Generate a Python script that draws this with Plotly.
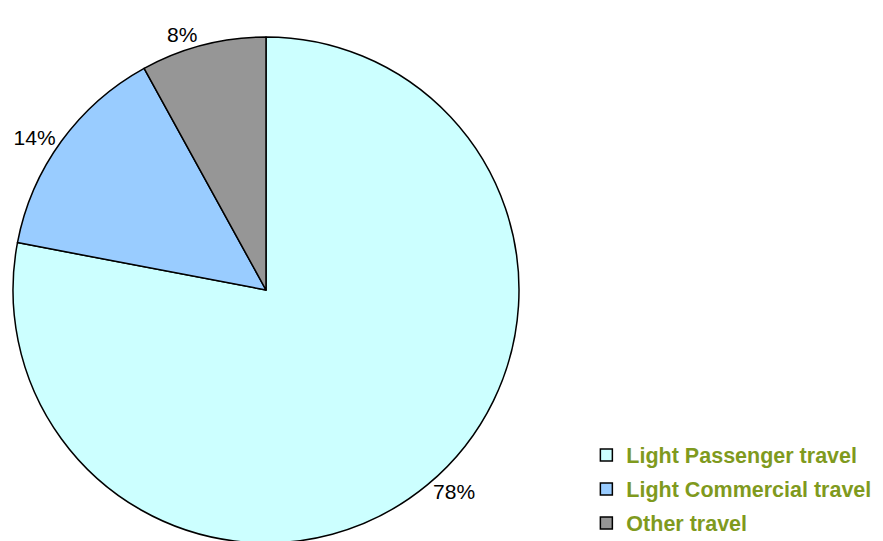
import plotly.graph_objects as go

categories = ["Light Passenger travel", "Light Commercial travel", "Other travel"]
values = [78, 14, 8]
colors = ["#CCFFFF", "#99CCFF", "#969696"]

W, H = 883, 541
# requested domain (empirically corrected for plotly's pie placement)
cx, cy, R = 258, 282, 253

fig = go.Figure()
fig.add_trace(go.Pie(
    labels=categories, values=values, sort=False, direction="clockwise", rotation=0,
    marker=dict(colors=colors, line=dict(color="black", width=1.5)),
    textposition="outside", texttemplate="%{percent:.0%}",
    textfont=dict(family="Liberation Sans, Arial", size=21, color="black"),
    showlegend=False, hoverinfo="label+percent",
    domain=dict(x=[(cx - R) / W, (cx + R) / W], y=[(H - cy - R) / H, (H - cy + R) / H]),
))

for i, (name, col) in enumerate(zip(categories, colors)):
    fig.add_trace(go.Scatter(
        x=[None], y=[None], mode="markers", name=name, legendgroup=f"g{i}",
        marker=dict(symbol="square", size=12, color=col, line=dict(color="black", width=1.5)),
        showlegend=True, hoverinfo="skip",
    ))

fig.update_layout(
    width=W, height=H, margin=dict(l=0, r=0, t=0, b=0),
    paper_bgcolor="white", plot_bgcolor="white",
    xaxis=dict(visible=False), yaxis=dict(visible=False),
    legend=dict(x=0.655, y=0.01, xanchor="left", yanchor="bottom",
                font=dict(family="Liberation Sans, Arial", size=21.5, color="#7F9A1E", weight="bold"),
                tracegroupgap=3, bgcolor="rgba(0,0,0,0)"),
)
fig.write_html("out.html")
